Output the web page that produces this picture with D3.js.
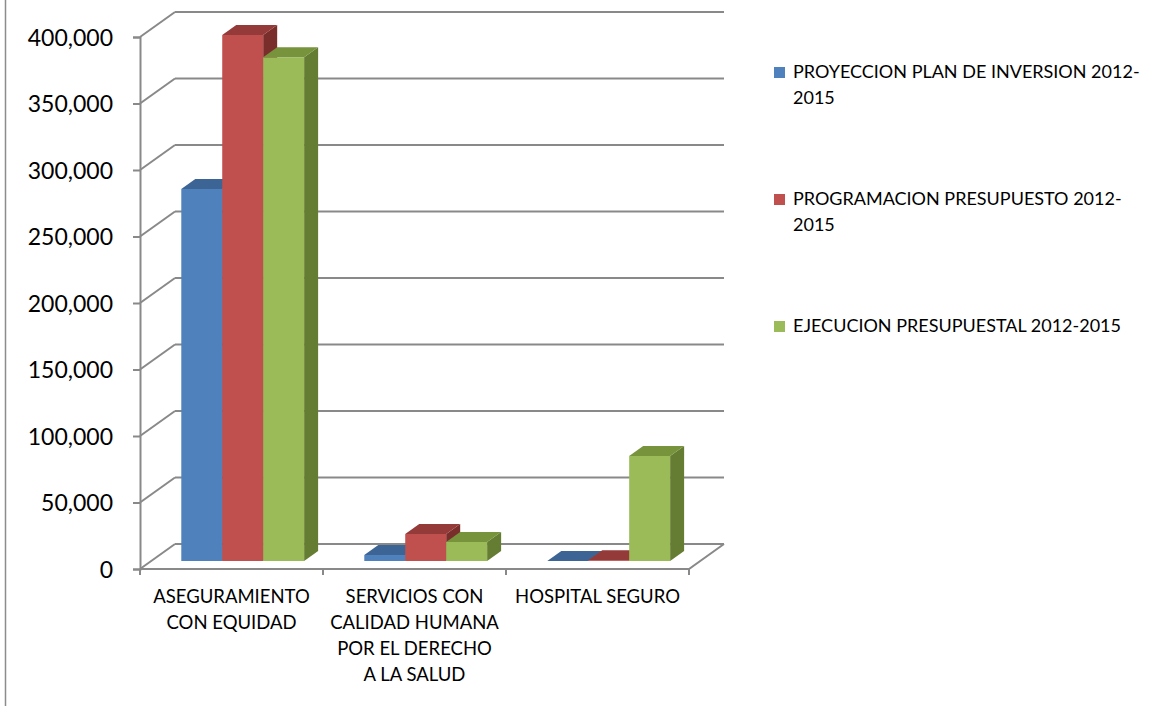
<!DOCTYPE html>
<meta charset="utf-8">
<html>

<head>
    <script src="https://d3js.org/d3.v7.min.js"></script>
    <style>
        body { margin: 0; background: #fff; }
        text { font-family: Lato, "Open Sans", sans-serif; fill: #000; }
    </style>
</head>

<body>
    <div id="chart"></div>

    <script>

        // data
        var categories = ["ASEGURAMIENTO CON EQUIDAD", "SERVICIOS CON CALIDAD HUMANA POR EL DERECHO A LA SALUD", "HOSPITAL SEGURO"];
        var categoryLines = [
            ["ASEGURAMIENTO", "CON EQUIDAD"],
            ["SERVICIOS CON", "CALIDAD HUMANA", "POR EL DERECHO", "A LA SALUD"],
            ["HOSPITAL SEGURO"]
        ];
        var seriesNames = ["PROYECCION PLAN DE INVERSION 2012-2015", "PROGRAMACION PRESUPUESTO 2012-2015", "EJECUCION PRESUPUESTAL 2012-2015"];
        var legendLines = [
            ["PROYECCION PLAN DE INVERSION 2012-", "2015"],
            ["PROGRAMACION PRESUPUESTO 2012-", "2015"],
            ["EJECUCION PRESUPUESTAL 2012-2015"]
        ];
        var proyeccion = [279700, 4500, 0];
        var programacion = [395500, 20300, 600];
        var ejecucion = [378700, 14300, 79000];
        var yTicks = [0, 50000, 100000, 150000, 200000, 250000, 300000, 350000, 400000];

        var seriesValues = [proyeccion, programacion, ejecucion];

        // colours: front, top, side
        var colors = [
            { front: "#4f81bd", top: "#3c6494", side: "#385d8a" },
            { front: "#c0504d", top: "#943a38", side: "#7a2e2c" },
            { front: "#9bbb59", top: "#77933c", side: "#657c33" }
        ];

        var width = 1160, height = 709;
        var depth = { dx: 35, dy: -25 };   // floor depth in screen space
        var barFront = 0.32, barBack = 0.72; // bar position inside depth

        var svg = d3.select("#chart")
            .append("svg")
            .attr("width", width)
            .attr("height", height);

        // scales (front plane)
        var x = d3.scaleBand()
            .domain(categories)
            .range([140, 689]);

        var xs = d3.scaleBand()
            .domain(seriesNames)
            .range([0, x.bandwidth()])
            .paddingOuter(0.735);

        var y = d3.scaleLinear()
            .domain([0, 400000])
            .range([569, 37]);

        var gridColor = "#898989";

        // chart border on the left
        svg.append("line")
            .attr("x1", 5.5).attr("x2", 5.5)
            .attr("y1", 0).attr("y2", 706)
            .attr("stroke", "#8c8c8c")
            .attr("stroke-width", 1.5);

        // back wall gridlines + left wall diagonals
        var grid = svg.append("g");
        yTicks.forEach(function (t) {
            grid.append("line")
                .attr("x1", 140 + depth.dx).attr("x2", 689 + depth.dx)
                .attr("y1", y(t) + depth.dy).attr("y2", y(t) + depth.dy)
                .attr("stroke", gridColor).attr("stroke-width", 2);
            grid.append("line")
                .attr("x1", 140).attr("x2", 140 + depth.dx)
                .attr("y1", y(t)).attr("y2", y(t) + depth.dy)
                .attr("stroke", gridColor).attr("stroke-width", 2);
        });

        // floor
        grid.append("path")
            .attr("d", "M140," + y(0) + "L689," + y(0) + "L" + (689 + depth.dx) + "," + (y(0) + depth.dy))
            .attr("fill", "none")
            .attr("stroke", gridColor).attr("stroke-width", 2);

        // Y axis
        var yAxis = d3.axisLeft(y)
            .tickValues(yTicks)
            .tickSize(7)
            .tickPadding(20)
            .tickFormat(d3.format(","));
        var ya = svg.append("g")
            .attr("transform", "translate(140,0)")
            .call(yAxis);
        ya.selectAll("path, line").attr("stroke", gridColor).attr("stroke-width", 2);
        ya.selectAll("text").style("font-size", "23px").attr("dy", "0.36em");

        // category ticks
        var catTicks = categories.map(function (c) { return x(c); }).concat([x.range()[1]]);
        svg.append("g").selectAll("line")
            .data(catTicks)
            .enter()
            .append("line")
            .attr("x1", function (d) { return d; })
            .attr("x2", function (d) { return d; })
            .attr("y1", y(0)).attr("y2", y(0) + 6)
            .attr("stroke", gridColor).attr("stroke-width", 2);

        // category labels
        var cl = svg.append("g").selectAll("text")
            .data(categories)
            .enter()
            .append("text")
            .attr("text-anchor", "middle")
            .style("font-size", "18.5px")
            .attr("transform", function (d) { return "translate(" + (x(d) + x.bandwidth() / 2) + ",603)"; });
        cl.each(function (d, i) {
            var t = d3.select(this);
            categoryLines[i].forEach(function (line, j) {
                t.append("tspan").attr("x", 0).attr("y", j * 26).text(line);
            });
        });

        // 3D bars, drawn left to right
        var bars = [];
        categories.forEach(function (c, ci) {
            seriesNames.forEach(function (s, si) {
                bars.push({ cat: c, ser: s, si: si, value: seriesValues[si][ci] });
            });
        });

        var bw = xs.bandwidth();
        var fx = barFront * depth.dx, fy = barFront * depth.dy;
        var bdx = (barBack - barFront) * depth.dx, bdy = (barBack - barFront) * depth.dy;

        var g = svg.append("g").selectAll("g")
            .data(bars)
            .enter()
            .append("g");

        g.each(function (d) {
            var el = d3.select(this);
            var x0 = x(d.cat) + xs(d.ser) + fx;
            var x1 = x0 + bw;
            var yb = y(0) + fy;
            var yt = y(d.value) + fy;
            var col = colors[d.si];
            // side
            el.append("path")
                .attr("d", "M" + x1 + "," + yb + "L" + (x1 + bdx) + "," + (yb + bdy) +
                    "L" + (x1 + bdx) + "," + (yt + bdy) + "L" + x1 + "," + yt + "Z")
                .attr("fill", col.side);
            // front
            el.append("rect")
                .attr("x", x0).attr("y", yt)
                .attr("width", bw).attr("height", yb - yt)
                .attr("fill", col.front);
            // top
            el.append("path")
                .attr("d", "M" + x0 + "," + yt + "L" + x1 + "," + yt +
                    "L" + (x1 + bdx) + "," + (yt + bdy) + "L" + (x0 + bdx) + "," + (yt + bdy) + "Z")
                .attr("fill", col.top);
        });

        // legend
        var legend = svg.append("g").selectAll("g")
            .data(seriesNames)
            .enter()
            .append("g")
            .attr("transform", function (d, i) { return "translate(774," + (67 + i * 127) + ")"; });

        legend.append("rect")
            .attr("width", 11).attr("height", 11)
            .attr("fill", function (d, i) { return colors[i].front; });

        legend.append("text")
            .style("font-size", "18px")
            .each(function (d, i) {
                var t = d3.select(this);
                legendLines[i].forEach(function (line, j) {
                    t.append("tspan").attr("x", 19).attr("y", 11 + j * 26).text(line);
                });
            });

    </script>

</body>

</html>
